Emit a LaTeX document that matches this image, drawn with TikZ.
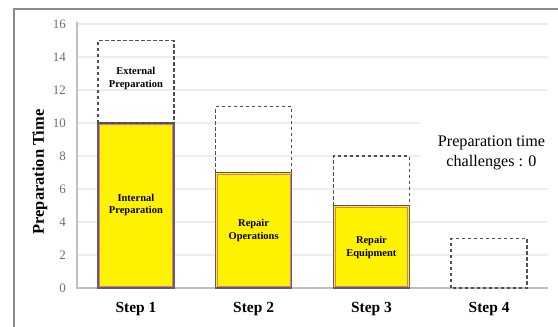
\documentclass[tikz,border=0pt]{standalone}
\usepackage{fontspec}
\setmainfont{Liberation Serif}
\definecolor{gridc}{HTML}{EDEDED}
\definecolor{axisc}{HTML}{BFBFBF}
\definecolor{framec}{HTML}{8A8A8A}
\definecolor{tickc}{HTML}{6E6E6E}
\definecolor{barout}{HTML}{606060}
\definecolor{barin}{HTML}{D9788A}
\definecolor{dashc}{HTML}{505050}
\tikzset{
  gridline/.style={draw=gridc, line width=1.2bp},
  axisline/.style={draw=axisc, line width=1.3bp},
  ticklabel/.style={anchor=east, text=tickc, font=\fontsize{13}{13}\selectfont, inner sep=0pt},
  catlabel/.style={font=\bfseries\fontsize{15.5}{15.5}\selectfont, inner sep=0pt},
  barlabel/.style={font=\bfseries\fontsize{10.5}{13}\selectfont, align=center, inner sep=0pt},
  yellowbar/.style={fill=yellow, draw=barout, line width=1.6bp},
  yellowinner/.style={draw=barin, line width=0.8bp},
  dashbar/.style={draw=dashc, line width=1.3bp, dash pattern=on 3.5bp off 2.5bp},
}
\begin{document}
\begin{tikzpicture}[x=1bp,y=-1bp]
\useasboundingbox (0,0) rectangle (558,326);
% frame
\draw[framec, line width=1.8bp] (14,330) -- (14,9) -- (562,9);
% gridlines
\foreach \v in {2,4,6,12,14,16} {
  \draw[gridline] (77,{288-16.5*\v}) -- (548,{288-16.5*\v});
}
\foreach \v in {8,10} {
  \draw[gridline] (77,{288-16.5*\v}) -- (420,{288-16.5*\v});
}
% tick labels
\foreach \v in {0,2,...,16} {
  \node[ticklabel] (t\v) at (66,{288-16.5*\v}) {\v};
}
% axes
\draw[axisline] (77,22) -- (77,288) -- (548,288);
% bars
\foreach \c/\lo/\hi/\n in {135.9/10/15/1, 253.6/7/11/2, 371.4/5/8/3} {
  \draw[yellowbar] (\c-38,288) rectangle (\c+38,{288-16.5*\lo});
  \draw[yellowinner] (\c-36.4,286.4) rectangle (\c+36.4,{289.6-16.5*\lo});
  \draw[dashbar] (\c-38,{288-16.5*\lo}) rectangle (\c+38,{288-16.5*\hi});
}
\draw[dashbar] (451.1,288) rectangle (527.1,{288-16.5*3});
% bar labels
\node[barlabel] (ext) at (135.9,78.5) {External\\Preparation};
\node[barlabel] (int) at (135.9,205) {Internal\\Preparation};
\node[barlabel] (rop) at (253.6,230) {Repair\\Operations};
\node[barlabel] (req) at (371.4,247) {Repair\\Equipment};
% category labels
\node[catlabel] (s1) at (135.9,309) {Step 1};
\node[catlabel] (s2) at (253.6,309) {Step 2};
\node[catlabel] (s3) at (371.4,309) {Step 3};
\node[catlabel] (s4) at (489.1,309) {Step 4};
% axis title
\node[font=\bfseries\fontsize{16.5}{16.5}\selectfont, rotate=90, inner sep=0pt] (yt) at (40,172) {Preparation Time};
% annotation
\node[font=\fontsize{16.2}{20}\selectfont, align=center, inner sep=0pt] (ann) at (491.5,152.5) {Preparation time\\challenges : 0};
\end{tikzpicture}
\end{document}
